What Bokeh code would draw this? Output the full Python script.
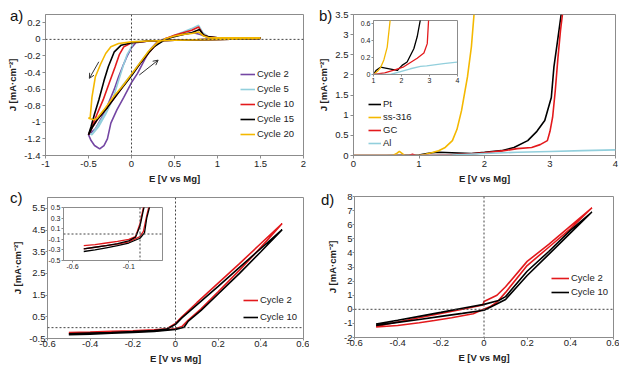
from bokeh.plotting import figure
from bokeh.models import (Range1d, FixedTicker, Span, Legend, LegendItem, Arrow, Div,
                          OpenHead, CustomJSTickFormatter)
from bokeh.layouts import column
from bokeh.embed import file_html
from bokeh.resources import INLINE

FONT = "Liberation Sans"
GRAY = "#8c8c8c"
PURPLE = "#7446a3"
LBLUE = "#92cfdc"
RED = "#e3191c"
BLACK = "#000000"
GOLD = "#f4b800"

# ---------------- data: panel a (CV cycles) ----------------
a_cycles = ["Cycle 2", "Cycle 5", "Cycle 10", "Cycle 15", "Cycle 20"]
a_E_c2 = [1.5, 1.0, 0.5, 0.2, 0.05, 0.0, -0.05, -0.1, -0.15, -0.2, -0.28, -0.35, -0.42, -0.5,
          -0.47, -0.43, -0.37, -0.32, -0.28, -0.24, -0.17, -0.09, 0.0, 0.07, 0.15, 0.22, 0.3, 0.4,
          0.5, 0.6, 0.72, 0.8, 0.9, 1.0, 1.5]
a_J_c2 = [0.01, 0.0, -0.01, -0.02, -0.04, -0.1, -0.2, -0.32, -0.45, -0.6, -0.8, -0.95, -1.08, -1.15,
          -1.22, -1.28, -1.32, -1.28, -1.2, -1.01, -0.85, -0.7, -0.52, -0.41, -0.25, -0.12, -0.03, 0.01,
          0.04, 0.06, 0.08, 0.06, 0.02, 0.01, 0.02]
a_E_c5 = [1.5, 1.0, 0.5, 0.2, 0.02, 0.0, -0.05, -0.1, -0.16, -0.22, -0.3, -0.38, -0.46, -0.5,
          -0.46, -0.4, -0.3, -0.2, -0.1, 0.0, 0.1, 0.2, 0.3, 0.4, 0.5, 0.6, 0.7, 0.78, 0.83, 0.9, 1.0, 1.5]
a_J_c5 = [0.01, 0.0, -0.01, -0.02, -0.03, -0.09, -0.18, -0.33, -0.53, -0.73, -0.9, -1.05, -1.15, -1.12,
          -1.15, -1.05, -0.88, -0.7, -0.55, -0.42, -0.28, -0.15, -0.05, 0.0, 0.05, 0.09, 0.13, 0.17, 0.08,
          0.03, 0.02, 0.02]
a_E_c10 = [1.5, 1.0, 0.5, 0.2, 0.0, -0.09, -0.14, -0.19, -0.26, -0.33, -0.4, -0.46, -0.5,
           -0.45, -0.4, -0.28, -0.13, 0.0, 0.1, 0.2, 0.3, 0.4, 0.5, 0.6, 0.7, 0.78, 0.83, 0.9, 1.0, 1.5]
a_J_c10 = [0.01, 0.0, -0.01, -0.02, -0.04, -0.09, -0.18, -0.33, -0.53, -0.73, -0.9, -1.05, -1.15,
           -1.05, -0.97, -0.82, -0.61, -0.43, -0.29, -0.16, -0.05, 0.01, 0.05, 0.08, 0.11, 0.15, 0.06,
           0.03, 0.02, 0.02]
a_E_c15 = [1.5, 1.0, 0.5, 0.2, 0.0, -0.12, -0.2, -0.27, -0.32, -0.38, -0.43, -0.47, -0.5,
           -0.45, -0.4, -0.28, -0.13, 0.0, 0.1, 0.2, 0.26, 0.35, 0.45, 0.6, 0.7, 0.79, 0.84, 0.9, 1.0, 1.5]
a_J_c15 = [0.01, 0.0, -0.01, -0.02, -0.04, -0.07, -0.15, -0.33, -0.5, -0.73, -0.9, -1.05, -1.15,
           -1.05, -0.97, -0.82, -0.61, -0.44, -0.29, -0.16, -0.09, -0.03, 0.02, 0.06, 0.08, 0.12, 0.05,
           0.03, 0.02, 0.02]
a_E_c20 = [1.5, 1.0, 0.5, 0.2, 0.0, -0.15, -0.24, -0.3, -0.36, -0.42, -0.46, -0.48, -0.5,
           -0.44, -0.4, -0.3, -0.2, -0.1, 0.0, 0.1, 0.2, 0.3, 0.4, 0.5, 0.6, 0.7, 0.78, 0.84, 0.9, 1.0, 1.5]
a_J_c20 = [0.01, 0.0, -0.01, -0.02, -0.03, -0.05, -0.09, -0.17, -0.3, -0.45, -0.7, -0.94, -0.95,
           -0.97, -0.95, -0.82, -0.68, -0.56, -0.42, -0.28, -0.14, -0.04, 0.01, 0.04, 0.06, 0.07, 0.09,
           0.04, 0.02, 0.02, 0.02]
a_arrows = [(-0.38, -0.27, -0.49, -0.47), (0.09, -0.43, 0.31, -0.25)]

# ---------------- data: panel b (LSV on electrodes) ----------------
b_names = ["Pt", "ss-316", "GC", "Al"]
b_E_pt = [0, 0.5, 1.0, 1.1, 1.2, 1.3, 1.5, 1.8, 2.0, 2.26, 2.45, 2.66, 2.8, 2.92, 3.02, 3.06, 3.12, 3.17]
b_J_pt = [0, 0, 0.01, 0.04, 0.07, 0.08, 0.07, 0.05, 0.08, 0.12, 0.2, 0.37, 0.6, 0.87, 1.44, 2.2, 2.9, 3.5]
b_E_ss = [0, 0.6, 0.66, 0.7, 0.74, 0.78, 1.0, 1.1, 1.19, 1.3, 1.4, 1.51, 1.58, 1.65, 1.74, 1.8, 1.84]
b_J_ss = [0, 0, 0.05, 0.1, 0.05, 0, 0, 0.03, 0.07, 0.12, 0.2, 0.37, 0.65, 1.12, 1.95, 2.7, 3.5]
b_E_gc = [0, 0.85, 0.9, 0.95, 1.0, 1.5, 1.8, 2.0, 2.3, 2.5, 2.72, 2.85, 2.96, 3.0, 3.04, 3.08, 3.12, 3.16, 3.19]
b_J_gc = [0, 0, 0.03, 0, 0, 0.02, 0.04, 0.07, 0.12, 0.17, 0.2, 0.27, 0.37, 0.6, 0.95, 1.6, 2.4, 3.1, 3.5]
b_E_al = [0, 1.0, 1.5, 2.0, 2.5, 3.0, 3.5, 4.0]
b_J_al = [0, 0, 0.01, 0.05, 0.08, 0.1, 0.12, 0.14]
# inset of panel b (1-4 V, 0-0.6 mA/cm2)
bi_E_pt = [1.0, 1.1, 1.25, 1.43, 1.85, 2.02, 2.2, 2.44, 2.56, 2.68]
bi_J_pt = [0.0, 0.05, 0.085, 0.075, 0.047, 0.106, 0.145, 0.3, 0.44, 0.65]
bi_E_ss = [1.0, 1.15, 1.25, 1.37, 1.49, 1.6]
bi_J_ss = [0.0, 0.04, 0.08, 0.17, 0.32, 0.65]
bi_E_gc = [1.0, 1.4, 1.73, 2.08, 2.56, 2.8, 2.92, 2.97]
bi_J_gc = [0.0, 0.02, 0.05, 0.09, 0.19, 0.25, 0.36, 0.65]
bi_E_al = [1.0, 1.6, 2.32, 2.68, 2.9, 3.5, 3.98]
bi_J_al = [0.0, 0.0, 0.067, 0.095, 0.1, 0.127, 0.145]

# ---------------- data: panel c ----------------
c_E_c2 = [-0.5, -0.4, -0.3, -0.2, -0.1, -0.04, 0.0, 0.03, 0.1, 0.2, 0.3, 0.4, 0.5,
          0.4, 0.3, 0.2, 0.12, 0.06, 0.03, 0.0, -0.1, -0.2, -0.3, -0.4, -0.5]
c_J_c2 = [-0.22, -0.2, -0.17, -0.14, -0.1, -0.05, 0.2, 0.5, 1.15, 2.05, 2.95, 3.88, 4.8,
          3.7, 2.65, 1.65, 0.87, 0.35, 0.05, -0.05, -0.15, -0.19, -0.22, -0.25, -0.28]
c_E_c10 = [-0.5, -0.4, -0.3, -0.2, -0.1, -0.04, 0.0, 0.03, 0.1, 0.2, 0.3, 0.4, 0.5,
           0.4, 0.3, 0.2, 0.12, 0.06, 0.04, 0.0, -0.1, -0.2, -0.3, -0.4, -0.5]
c_J_c10 = [-0.28, -0.25, -0.22, -0.18, -0.13, -0.06, 0.15, 0.45, 1.05, 1.9, 2.78, 3.65, 4.52,
           3.5, 2.5, 1.55, 0.8, 0.3, 0.02, -0.08, -0.17, -0.22, -0.26, -0.3, -0.33]

# ---------------- data: panel d ----------------
d_E_c2 = [-0.5, -0.4, -0.3, -0.23, -0.15, -0.05, -0.01, 0.03, 0.06, 0.1, 0.2, 0.3, 0.4, 0.5,
          0.4, 0.3, 0.2, 0.1, 0.06, 0.0, -0.005, -0.1, -0.2, -0.3, -0.4, -0.5]
d_J_c2 = [-1.25, -1.15, -0.95, -0.8, -0.6, -0.32, -0.05, 0.2, 0.5, 1.2, 3.1, 4.4, 5.7, 7.2,
          5.9, 4.6, 3.4, 1.6, 1.0, 0.55, 0.3, 0.0, -0.3, -0.6, -0.9, -1.2]
d_E_c10 = [-0.5, -0.4, -0.3, -0.2, -0.1, 0.0, 0.045, 0.1, 0.2, 0.3, 0.4, 0.5,
           0.4, 0.3, 0.2, 0.1, 0.068, 0.0, -0.1, -0.2, -0.3, -0.4, -0.5]
d_J_c10 = [-1.15, -0.93, -0.72, -0.5, -0.29, -0.07, 0.27, 0.7, 2.4, 3.9, 5.4, 6.9,
           5.6, 4.1, 2.7, 0.9, 0.62, 0.35, 0.07, -0.22, -0.5, -0.78, -1.05]

# ---------------- tick values ----------------
a_xticks = [-1, -0.5, 0, 0.5, 1, 1.5, 2]
a_yticks = [-1.4, -1.2, -1, -0.8, -0.6, -0.4, -0.2, 0, 0.2]
b_xticks = [0, 1, 2, 3, 4]
b_yticks = [0, 0.5, 1, 1.5, 2, 2.5, 3, 3.5]
bi_xticks = [1, 2, 3, 4]
bi_yticks = [0, 0.2, 0.4, 0.6]
c_xticks = [-0.6, -0.4, -0.2, 0, 0.2, 0.4, 0.6]
c_yticks = [-0.5, 0.5, 1.5, 2.5, 3.5, 4.5, 5.5]
ci_xticks = [-0.6, -0.1]
ci_yticks = [-0.5, -0.3, -0.1, 0.1, 0.3, 0.5]
d_xticks = [-0.6, -0.4, -0.2, 0, 0.2, 0.4, 0.6]
d_yticks = [-2, -1, 0, 1, 2, 3, 4, 5, 6, 7, 8]

XLABEL = "E [V vs Mg]"
YLABEL = "J [mA·cm⁻²]"
panel_letters = ["a)", "b)", "c)", "d)"]

FMT = CustomJSTickFormatter(code="return String(Math.round(tick*100)/100);")
LEFT = 60    # generous left border; canvases are shifted so frames land where wanted


def make_fig(fw, fh, xr, yr, top, bottom, xticks, yticks, fs="9.5px", labels=True,
             tick_out=3, standoff=2, inset=False):
    p = figure(frame_width=fw, frame_height=fh, x_range=Range1d(*xr), y_range=Range1d(*yr),
               output_backend="svg", toolbar_location=None,
               min_border_left=LEFT, min_border_right=6, min_border_top=top, min_border_bottom=bottom)
    p.xgrid.visible = False
    p.ygrid.visible = False
    p.outline_line_color = GRAY
    p.background_fill_color = "white"
    p.border_fill_color = None
    for ax, ticks in ((p.xaxis[0], xticks), (p.yaxis[0], yticks)):
        ax.ticker = FixedTicker(ticks=ticks)
        ax.formatter = FMT
        ax.axis_line_color = GRAY
        ax.major_tick_line_color = GRAY
        ax.major_tick_out = tick_out
        ax.major_tick_in = 0
        ax.minor_tick_line_color = None
        ax.major_label_text_font = FONT
        ax.major_label_text_font_size = fs
        ax.major_label_text_color = "#222222"
        ax.major_label_standoff = standoff
        ax.axis_label_text_font = FONT
        ax.axis_label_text_font_size = fs
        ax.axis_label_text_font_style = "bold"
        ax.axis_label_text_color = "#222222"
        ax.axis_label_standoff = 3
    if labels:
        p.xaxis.axis_label = XLABEL
        p.yaxis.axis_label = YLABEL
    else:
        p.xaxis.axis_label = None
        p.yaxis.axis_label = None
    return p


def zero_lines(p, horiz=True, vert=True):
    if vert:
        p.add_layout(Span(location=0, dimension="height", line_color="#444444",
                          line_dash="2 2", line_width=1))
    if horiz:
        p.add_layout(Span(location=0, dimension="width", line_color="#444444",
                          line_dash="2 2", line_width=1))


def add_legend(p, rends, names, loc, spacing, gw=15):
    items = [LegendItem(label=n, renderers=[r]) for n, r in zip(names, rends)]
    lg = Legend(items=items, location=loc, border_line_color=None, background_fill_alpha=0,
                label_text_font=FONT, label_text_font_size="9.5px", label_text_color="#222222",
                glyph_width=gw, glyph_height=10, label_height=10, spacing=spacing,
                padding=0, margin=0, label_standoff=2)
    p.add_layout(lg)


# ---------------- panel a ----------------
pa = make_fig(258, 141, (-1, 2), (-1.4, 0.3), 14, 30, a_xticks, a_yticks)
zero_lines(pa)
ra = []
for E, J, col in ((a_E_c2, a_J_c2, PURPLE), (a_E_c5, a_J_c5, LBLUE), (a_E_c10, a_J_c10, RED),
                  (a_E_c15, a_J_c15, BLACK), (a_E_c20, a_J_c20, GOLD)):
    ra.append(pa.line(E, J, line_color=col, line_width=1.6))
add_legend(pa, ra, a_cycles, (195, 16), 4)
for xs, ys, xe, ye in a_arrows:
    pa.add_layout(Arrow(x_start=xs, y_start=ys, x_end=xe, y_end=ye, line_color="#333333",
                        line_width=1, end=OpenHead(size=5, line_color="#333333", line_width=1)))

# ---------------- panel b ----------------
pb = make_fig(262, 141, (0, 4), (0, 3.5), 14, 30, b_xticks, b_yticks)
rb = []
for E, J, col in ((b_E_pt, b_J_pt, BLACK), (b_E_ss, b_J_ss, GOLD), (b_E_gc, b_J_gc, RED),
                  (b_E_al, b_J_al, LBLUE)):
    rb.append(pb.line(E, J, line_color=col, line_width=1.6))
add_legend(pb, rb, b_names, (15, 7), 2, gw=13)

ib = make_fig(84, 54, (1, 4), (0, 0.63), 3, 12, bi_xticks, bi_yticks, fs="7px",
              labels=False, tick_out=2, standoff=1)
for E, J, col in ((bi_E_pt, bi_J_pt, BLACK), (bi_E_ss, bi_J_ss, GOLD), (bi_E_gc, bi_J_gc, RED),
                  (bi_E_al, bi_J_al, LBLUE)):
    ib.line(E, J, line_color=col, line_width=1.3)

# ---------------- panel c ----------------
pc = make_fig(256, 141, (-0.6, 0.6), (-0.5, 6.0), 12, 32, c_xticks, c_yticks,
              tick_out=2, standoff=0)
zero_lines(pc)
rc = [pc.line(c_E_c2, c_J_c2, line_color=RED, line_width=1.6),
      pc.line(c_E_c10, c_J_c10, line_color=BLACK, line_width=1.6)]
add_legend(pc, rc, ["Cycle 2", "Cycle 10"], (196, 16), 6)

ic = make_fig(99, 53, (-0.68, 0.2), (-0.5, 0.5), 3, 12, ci_xticks, ci_yticks, fs="7px",
              labels=False, tick_out=2, standoff=1)
zero_lines(ic)
ic.line(c_E_c2, c_J_c2, line_color=RED, line_width=1.3)
ic.line(c_E_c10, c_J_c10, line_color=BLACK, line_width=1.3)

# ---------------- panel d ----------------
pd = make_fig(259, 141, (-0.6, 0.6), (-2, 8), 11, 33, d_xticks, d_yticks,
              tick_out=2, standoff=0)
zero_lines(pd)
rd = [pd.line(d_E_c2, d_J_c2, line_color=RED, line_width=1.6),
      pd.line(d_E_c10, d_J_c10, line_color=BLACK, line_width=1.6)]
add_legend(pd, rd, ["Cycle 2", "Cycle 10"], (197, 40), 3, gw=18)

# panel letters as text blocks
letters = []
for txt, (lx, ly) in zip(panel_letters, [(5, 2), (314, 2), (5, 184), (316, 186)]):
    d = Div(text=txt, width=22, height=20,
            styles={"position": "absolute", "left": f"{lx}px", "top": f"{ly}px",
                    "font-family": FONT, "font-size": "15px", "color": "#111111",
                    "line-height": "18px"})
    letters.append(d)

# wanted frame top-left corners on the page; canvas = frame corner minus borders
frames = [(pa, 45, 14, 14), (pb, 353, 14, 14), (pc, 47, 197, 12), (pd, 354, 196, 11),
          (ib, 373, 20, 3), (ic, 63, 207, 3)]
for fig, fx, fy, top in frames:
    fig.styles = {"position": "absolute", "left": f"{fx - LEFT}px", "top": f"{fy - top}px"}

root = column(children=[f[0] for f in frames] + letters, width=600, height=340,
              sizing_mode="fixed")

open("out.html", "w").write(file_html(root, INLINE))
